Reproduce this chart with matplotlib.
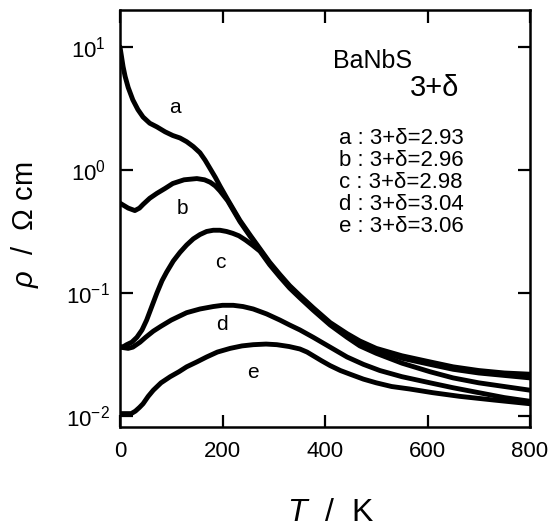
import matplotlib
matplotlib.use("Agg")
import matplotlib.pyplot as plt
import numpy as np

plt.rcParams['font.family'] = ['Liberation Sans', 'DejaVu Sans']
plt.rcParams['mathtext.fontset'] = 'custom'
plt.rcParams['mathtext.rm'] = 'Liberation Sans'
plt.rcParams['mathtext.it'] = 'Liberation Sans:italic'

# resistivity curves, log10(rho / Ohm cm)
T_a = [0, 3, 6, 10, 16, 25, 35, 45, 58, 72, 88, 103, 117, 130, 143, 156, 166, 176, 186, 195,
       210, 234, 254, 273, 292, 312, 331, 351, 377, 410, 443, 468, 500, 550, 605, 650, 700, 750, 800]
a = [1.00, 0.92, 0.84, 0.76, 0.67, 0.57, 0.49, 0.43, 0.38, 0.35, 0.31, 0.28, 0.26, 0.23, 0.19, 0.14, 0.08, 0.01, -0.06, -0.13,
     -0.24, -0.41, -0.53, -0.64, -0.75, -0.85, -0.94, -1.02, -1.12, -1.24, -1.33, -1.39, -1.45, -1.51, -1.56, -1.60, -1.63, -1.65, -1.66]

T_b = [0, 8, 16, 29, 38, 45, 58, 72, 88, 103, 125, 150, 165, 176, 186, 195, 210,
       234, 254, 273, 292, 312, 331, 351, 377, 410, 443, 468, 500, 550, 605, 650, 700, 750, 800]
b = [-0.27, -0.29, -0.31, -0.33, -0.31, -0.28, -0.23, -0.19, -0.15, -0.11, -0.08, -0.07, -0.08, -0.10, -0.13, -0.17, -0.25,
     -0.42, -0.54, -0.65, -0.76, -0.86, -0.95, -1.03, -1.13, -1.25, -1.34, -1.40, -1.46, -1.53, -1.58, -1.62, -1.65, -1.67, -1.69]

T_c = [0, 7, 13, 23, 33, 43, 52, 62, 72, 82, 91, 104, 117, 130, 143, 156, 169, 182, 195, 208, 220, 232, 245, 258, 273,
       292, 312, 331, 351, 377, 410, 443, 468, 500, 550, 605, 650, 700, 750, 800]
c = [-1.44, -1.435, -1.42, -1.40, -1.36, -1.30, -1.22, -1.11, -1.00, -0.90, -0.83, -0.74, -0.67, -0.61, -0.56, -0.525, -0.50, -0.49, -0.49, -0.50, -0.515, -0.535, -0.57, -0.61, -0.66,
     -0.77, -0.87, -0.96, -1.04, -1.14, -1.26, -1.36, -1.43, -1.49, -1.57, -1.64, -1.69, -1.73, -1.76, -1.79]

T_d = [0, 8, 16, 25, 39, 50, 65, 80, 100, 130, 156, 182, 200, 221, 240, 260, 286, 312, 331, 351,
       377, 410, 443, 475, 507, 550, 605, 650, 700, 750, 800]
d = [-1.44, -1.445, -1.45, -1.44, -1.40, -1.36, -1.31, -1.27, -1.22, -1.16, -1.13, -1.11, -1.10, -1.10, -1.11, -1.13, -1.17, -1.22, -1.26, -1.30,
     -1.36, -1.44, -1.52, -1.58, -1.63, -1.68, -1.73, -1.77, -1.81, -1.85, -1.88]

T_e = [0, 13, 22, 30, 38, 45, 55, 65, 80, 98, 115, 130, 150, 169, 190, 215, 238, 260, 285, 306, 330, 351,
       365, 377, 393, 410, 430, 449, 475, 500, 530, 565, 610, 663, 730, 800]
e = [-1.98, -1.98, -1.98, -1.96, -1.93, -1.90, -1.84, -1.79, -1.73, -1.68, -1.64, -1.60, -1.56, -1.52, -1.48, -1.45, -1.43, -1.42, -1.415, -1.42, -1.435, -1.455,
     -1.48, -1.51, -1.55, -1.59, -1.63, -1.66, -1.70, -1.73, -1.76, -1.78, -1.81, -1.84, -1.87, -1.90]

curves = [(T_a, a), (T_b, b), (T_c, c), (T_d, d), (T_e, e)]
curve_names = ['a', 'b', 'c', 'd', 'e']
name_pos = [(107, 10**0.51), (121, 10**-0.31), (195, 10**-0.75), (199, 10**-1.26), (260, 10**-1.65)]
compositions = ['2.93', '2.96', '2.98', '3.04', '3.06']

fig = plt.figure(figsize=(5.53, 5.29), dpi=100)
ax = fig.add_axes([120 / 553, 1 - 427 / 529, 410 / 553, 417 / 529])

for (T, lr) in curves:
    ax.plot(T, 10 ** np.array(lr), color='black', lw=3.5,
            solid_joinstyle='round', solid_capstyle='round')

ax.set_yscale('log')
ax.set_xlim(0, 800)
ax.set_ylim(10 ** -2.089, 10 ** 1.30)
ax.set_xticks([0, 200, 400, 600, 800])
ax.set_yticks([1e-2, 1e-1, 1e0, 1e1])
ax.set_yticklabels([r'$10^{-2}$', r'$10^{-1}$', r'$10^{0}$', r'$10^{1}$'])
ax.yaxis.set_minor_locator(matplotlib.ticker.NullLocator())
ax.tick_params(direction='in', length=9, width=1.6, top=True, right=True,
               labelsize=16)
ax.tick_params(axis='x', pad=10)
ax.tick_params(axis='y', pad=23)
for lab in ax.get_yticklabels():
    lab.set_horizontalalignment('center')
for sp in ax.spines.values():
    sp.set_linewidth(1.8)

for name, (x, y) in zip(curve_names, name_pos):
    ax.text(x, y, name, fontsize=15, ha='center', va='center')

fig.text(333 / 553, 1 - 68 / 529, 'BaNbS', fontsize=18, ha='left', va='baseline')
fig.text(410 / 553, 1 - 96 / 529, '3+δ', fontsize=21, ha='left', va='baseline')

for i, (name, comp) in enumerate(zip(curve_names, compositions)):
    fig.text(339 / 553, 1 - (138 + 22 * i) / 529, f'{name} : 3+δ={comp}',
             fontsize=16, ha='left', va='center')

fig.text(330 / 553, 1 - 513 / 529, r'$\mathit{T}$  /  K', fontsize=23,
         ha='center', va='center')
fig.text(25 / 553, 1 - 225 / 529, r'$\mathit{\rho}$  /  $\Omega$ cm', fontsize=21,
         ha='center', va='center', rotation=90)

fig.savefig('out.png', dpi=100)
